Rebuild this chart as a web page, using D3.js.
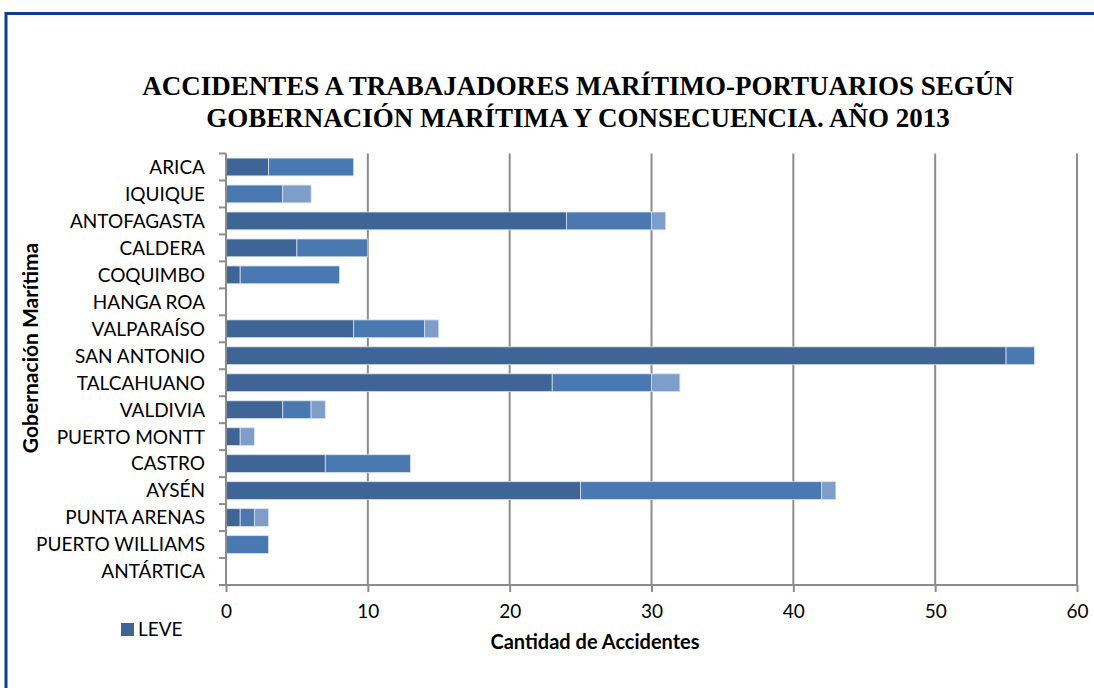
<!DOCTYPE html>
<html><head><meta charset="utf-8">
<script src="https://cdn.jsdelivr.net/npm/d3@7"></script>
<style>
html,body{margin:0;padding:0;background:#fff;}
svg{display:block;}
</style></head>
<body>
<script>
const categories = ["ARICA","IQUIQUE","ANTOFAGASTA","CALDERA","COQUIMBO","HANGA ROA","VALPARAÍSO","SAN ANTONIO","TALCAHUANO","VALDIVIA","PUERTO MONTT","CASTRO","AYSÉN","PUNTA ARENAS","PUERTO WILLIAMS","ANTÁRTICA"];
const leve   = [3, 0, 24, 5, 1, 0, 9, 55, 23, 4, 1, 7, 25, 1, 0, 0];
const grave  = [6, 4, 6, 5, 7, 0, 5, 2, 7, 2, 0, 6, 17, 1, 3, 0];
const fatal  = [0, 2, 1, 0, 0, 0, 1, 0, 2, 1, 1, 0, 1, 1, 0, 0];
const seriesNames = ["LEVE", "GRAVE", "FATAL"];
const seriesColors = ["#3e6595", "#4a78b0", "#7f9dc9"];
const xTicks = [0, 10, 20, 30, 40, 50, 60];
const legendItems = ["LEVE"];

(function(){
const W = 1094, H = 688;
const FONT = "Lato,'Open Sans',sans-serif";
const svg = d3.select("body").append("svg").attr("width", W).attr("height", H);

// frame
svg.append("path").attr("d", `M6,${H} L6,13.5 L${W},13.5`).attr("fill","none")
  .attr("stroke","#0f3f86").attr("stroke-width",3);

// title
const title = svg.append("text").attr("text-anchor","middle")
  .attr("font-family","'Liberation Serif','DejaVu Serif',serif").attr("font-weight","bold")
  .attr("font-size",27).attr("fill","#000");
title.append("tspan").attr("x",578).attr("y",95).text("ACCIDENTES A TRABAJADORES MARÍTIMO-PORTUARIOS SEGÚN");
title.append("tspan").attr("x",578).attr("y",127).text("GOBERNACIÓN MARÍTIMA Y CONSECUENCIA. AÑO 2013");

const pLeft = 226, pRight = 1077, pTop = 153.5, pBottom = 585;
const x = d3.scaleLinear().domain([0, 60]).range([pLeft, pRight]);
const y = d3.scaleBand().domain(categories).range([pTop, pBottom]).paddingInner(0.34).paddingOuter(0.17);

// gridlines
svg.append("g").selectAll("line").data(xTicks.slice(1)).join("line")
  .attr("x1", d => x(d)).attr("x2", d => x(d)).attr("y1", pTop).attr("y2", pBottom)
  .attr("stroke","#8c8c8c").attr("stroke-width",2);

// stacked data
const rows = categories.map((c,i) => ({cat:c, LEVE:leve[i], GRAVE:grave[i], FATAL:fatal[i]}));
const stack = d3.stack().keys(seriesNames)(rows);
svg.append("g").selectAll("g").data(stack).join("g")
  .attr("fill", (d,i) => seriesColors[i])
  .selectAll("rect").data(d => d.filter(s => s[1] > s[0])).join("rect")
  .attr("x", d => x(d[0])).attr("width", d => x(d[1]) - x(d[0]))
  .attr("y", d => y(d.data.cat)).attr("height", y.bandwidth())
  .attr("stroke","#d8e1ee").attr("stroke-width",0.8);

// axes
const xAxis = svg.append("g").attr("transform",`translate(0,${pBottom})`)
  .call(d3.axisBottom(x).tickValues(xTicks).tickSize(7).tickPadding(13));
xAxis.select(".domain").attr("stroke","#8c8c8c").attr("stroke-width",2).attr("d",`M${pLeft},0H${pRight}`);
xAxis.selectAll(".tick line").attr("stroke","#8c8c8c").attr("stroke-width",2);
xAxis.selectAll(".tick text").attr("font-family",FONT).attr("font-size",19).attr("fill","#000");

const yAxis = svg.append("g").attr("transform",`translate(${pLeft},0)`)
  .call(d3.axisLeft(y).tickSize(0).tickPadding(21));
yAxis.select(".domain").attr("stroke","#8c8c8c").attr("stroke-width",2).attr("d",`M0,${pTop}V${pBottom}`);
yAxis.selectAll(".tick text").attr("font-family",FONT).attr("font-size",19).attr("fill","#000")
  .attr("dy","0.36em");
// category separator ticks
const edges = categories.map(c => y(c) - y.step()*y.paddingInner()/2).concat([pBottom]);
svg.append("g").selectAll("line").data(edges).join("line")
  .attr("x1", pLeft-7).attr("x2", pLeft).attr("y1", d=>d).attr("y2", d=>d)
  .attr("stroke","#8c8c8c").attr("stroke-width",2);

// axis titles
svg.append("text").attr("x",595).attr("y",649).attr("text-anchor","middle")
  .attr("font-family",FONT).attr("font-weight","bold").attr("font-size",20)
  .text("Cantidad de Accidentes");
svg.append("text").attr("transform","translate(38,348) rotate(-90)").attr("text-anchor","middle")
  .attr("font-family",FONT).attr("font-weight","bold").attr("font-size",21)
  .text("Gobernación Marítima");

// legend
const lg = svg.append("g").selectAll("g").data(legendItems).join("g");
lg.append("rect").attr("x",121).attr("y",623).attr("width",13).attr("height",13).attr("fill",(d,i)=>seriesColors[i]);
lg.append("text").attr("x",138).attr("y",636).attr("font-family",FONT).attr("font-size",19).text(d=>d);
})();
</script>
</body></html>
